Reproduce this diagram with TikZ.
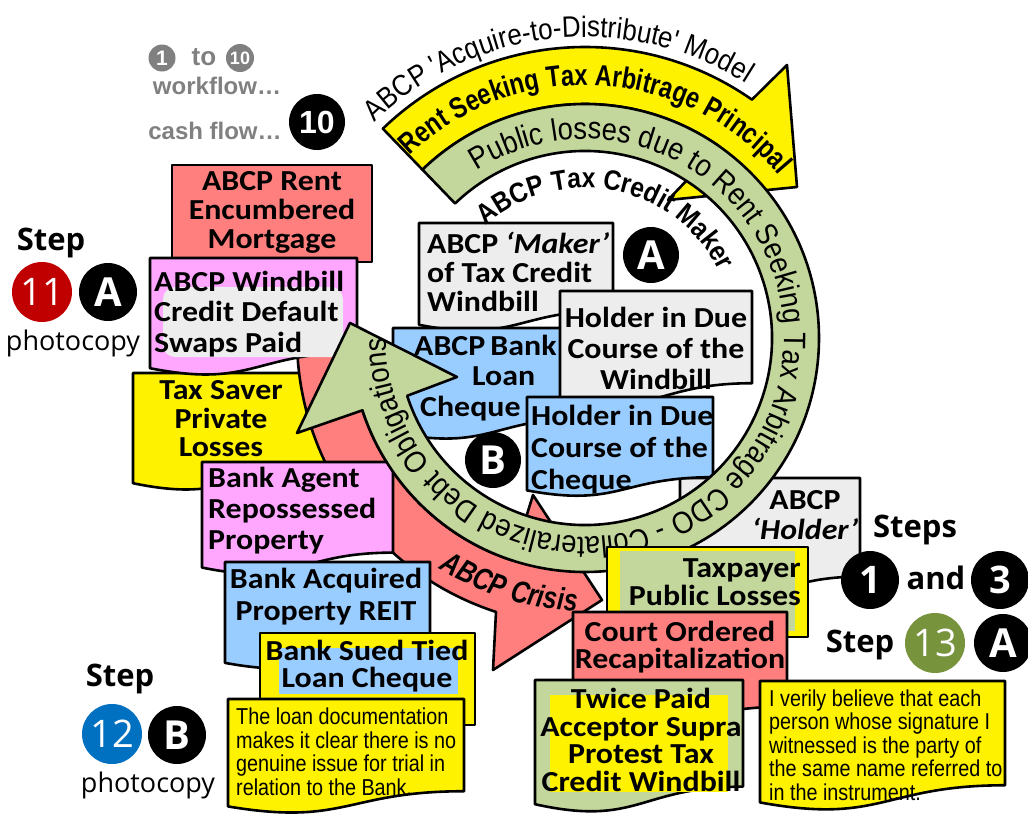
\documentclass[tikz,border=0pt]{standalone}
\usepackage{fontspec}
\setmainfont{Carlito}
\newfontfamily\boxfont[FakeStretch=1.1]{Carlito}
\newfontfamily\arialf{Liberation Sans}
\newfontfamily\arcA[FakeStretch=0.8]{Liberation Sans}
\newfontfamily\arcB[FakeStretch=0.88]{Liberation Sans}
\newfontfamily\openf{Open Sans}
\newfontfamily\notef[FakeStretch=0.86]{Liberation Sans}
\usetikzlibrary{calc,decorations.text}
\definecolor{salmon}{HTML}{FF7F7F}
\definecolor{pinkb}{HTML}{FFA6FF}
\definecolor{lblue}{HTML}{99CCFF}
\definecolor{lgreen}{HTML}{C3D69B}
\definecolor{grayb}{HTML}{EDEDED}
\definecolor{red11}{HTML}{C00000}
\definecolor{blue12}{HTML}{0070C0}
\definecolor{olive13}{HTML}{77933C}
\definecolor{txtgray}{HTML}{808080}
\newcommand\bx[1]{\boxfont\bfseries\fontsize{29}{#1}\selectfont}
\newcommand\docshape[5]{\path[#1] (#2,#3) -- (#4,#3) -- (#4,{#3+0.802*(#5)}) .. controls ({(#2+#4)/2},{#3+0.802*(#5)}) and ({(#2+#4)/2},{#3+1.107*(#5)}) .. (#2,{#3+0.934*(#5)}) -- cycle;}
\tikzset{
  shp/.style={draw=black, line width=2.6pt, line join=round},
  bt/.style={inner sep=0pt, align=center},
  nt/.style={font=\notef\fontsize{23}{23.5}\selectfont, inner sep=0pt, align=left, anchor=west},
  circ/.style={circle, fill=black, minimum size=58pt, inner sep=0pt, text=white},
  lbl/.style={font=\openf\bfseries\fontsize{31}{31}\selectfont, inner sep=0pt},
  photo/.style={font=\openf\fontsize{27}{27}\selectfont, inner sep=0pt},
  gtxt/.style={font=\arialf\bfseries\fontsize{24}{24}\selectfont, text=txtgray, inner sep=0pt},
}
\begin{document}
\begin{tikzpicture}[x=1pt,y=-1pt]
\useasboundingbox (0,0) rectangle (1028,814);
\coordinate (C) at (585,338);

% yellow arrow
\draw[shp, fill=yellow] ($(C)+(-134:291)$) arc[start angle=-134, end angle=-55, radius=291] -- (787,65) -- (797,187) -- (668,200) -- ($(C)+(-55:234)$) arc[start angle=-55, end angle=-134, radius=234] -- cycle;
\path[decorate, decoration={text along path, text align=center, text={|\arcA\bfseries\fontsize{29.5}{29.5}\selectfont|Rent Seeking Tax Arbitrage Principal}}] ($(C)+(-137:253)$) arc[start angle=-137, end angle=-37, radius=253];

% ABCP Holder box
\docshape{shp,fill=grayb}{680}{478}{860}{123}
\node[bt, font=\bx{30}] (holder) at (805,515) {ABCP\\\textit{‘Holder’}};

% Tax Saver
\docshape{shp,fill=yellow}{133}{373}{330}{118}
\node[bt, font=\bx{28.5}] (taxsaver) at (221,419) {Tax Saver\\Private\\Losses};

% red arrow
\draw[shp, fill=salmon] ($(C)+(-175:234)$) arc[start angle=-175, end angle=-252, radius=234] -- (533,495) -- (602,600) -- (493,670) -- ($(C)+(-252:288)$) arc[start angle=-252, end angle=-175, radius=288] -- cycle;
\path[decorate, decoration={text along path, text align=center, text={|\arcA\bfseries\itshape\fontsize{31}{31}\selectfont|ABCP Crisis}}] ($(C)+(-234:273)$) arc[start angle=-234, end angle=-272, radius=273];

% left column boxes
\draw[shp, fill=salmon] (172,165) rectangle (372,262);
\node[bt, font=\bx{29}] (rent) at (272,212) {ABCP Rent\\Encumbered\\Mortgage};
\docshape{shp,fill=pinkb}{150}{258}{357}{118}
\fill[grayb, rounded corners=12pt] (163,287) rectangle (343,357);
\node[bt, align=left, anchor=west, font=\bx{30.5}] (windbill) at (154,314) {ABCP Windbill\\Credit Default\\Swaps Paid};

\docshape{shp,fill=pinkb}{202}{462}{393}{113}
\node[bt, align=left, anchor=west, font=\bx{31}] (agent) at (208,511) {Bank Agent\\Repossessed\\Property};
\docshape{shp,fill=lblue}{225}{562}{430}{108}
\node[bt, font=\bx{32}] (reit) at (326,597) {Bank Acquired\\Property REIT};
\draw[shp, fill=yellow] (260,633) rectangle (475,725);
\fill[lblue] (279,648) rectangle (458,694);
\node[bt, font=\bx{27}] (sued) at (367,666) {Bank Sued Tied\\Loan Cheque};
\docshape{shp,fill=yellow}{228}{699}{464}{115}
\node[nt] (note1) at (236,752) {The loan documentation\\makes it clear there is no\\genuine issue for trial in\\relation to the Bank.};

% inner boxes
\docshape{shp,fill=grayb}{419}{223}{613}{109}
\node[bt, align=left, anchor=west, font=\bx{29}] (maker) at (427,272) {ABCP \textit{‘Maker’}\\of Tax Credit\\Windbill};
\docshape{shp,fill=lblue}{393}{328}{590}{112}
\node[bt, align=left, anchor=west, font=\bx{30.5}] (loan) at (414,378) {ABCP\hspace{-2pt} Bank\\\hspace*{58pt}Loan\\\hspace*{6pt}Cheque};
\docshape{shp,fill=grayb}{560}{291}{752}{115}
\node[bt, font=\bx{31}] (hwind) at (656,348) {Holder in Due\\Course of the\\Windbill};
\docshape{shp,fill=lblue}{527}{397}{713}{100}
\node[bt, align=left, anchor=west, font=\bx{32}] (hcheq) at (531,450) {Holder in Due\\Course of the\\Cheque};

% green arrow
\draw[shp, fill=lgreen] ($(C)+(-134:234)$) arc[start angle=-134, end angle=162, radius=234] -- (297,433) -- (350,323) -- (457,377) -- ($(C)+(162:187)$) arc[start angle=162, end angle=-134, radius=187] -- cycle;
\path[decorate, decoration={text along path, text align=center, text={|\arcB\fontsize{31}{31}\selectfont|Public losses due to Rent Seeking Tax Arbitrage CDO - Collateralized Debt Obligations}}] ($(C)+(-134:199)$) arc[start angle=-134, end angle=191, radius=199];

% right / bottom boxes
\draw[shp, fill=yellow] (607,547) rectangle (808,637);
\fill[lgreen] (620,551) rectangle (795,631);
\node[bt, align=right, anchor=east, font=\bx{28}] (taxpayer) at (801,582) {Taxpayer\\Public Losses};
\docshape{shp,fill=salmon}{573}{612}{787}{118}
\node[bt, font=\bx{27}] (court) at (680,647) {Court Ordered\\Recapitalization};
\docshape{shp,fill=lgreen}{535}{680}{743}{133}
\fill[yellow] (550,695) rectangle (728,792);
\node[bt, font=\bx{27.5}] (twice) at (641,740) {Twice Paid\\Acceptor Supra\\Protest Tax\\Credit Windbill};
\docshape{shp,fill=yellow}{760}{681}{1005}{130}
\node[nt] (note2) at (769,745) {I verily believe that each\\person whose signature I\\witnessed is the party of\\the same name referred to\\in the instrument.};

% arc texts
\path[decorate, decoration={text along path, text align=center, text={|\arcB\fontsize{29.5}{29.5}\selectfont|ABCP 'Acquire-to-Distribute' Model}}] ($(C)+(-139:301)$) arc[start angle=-139, end angle=-53, radius=301];
\path[decorate, decoration={text along path, text align=center, text={|\arcB\bfseries\fontsize{28}{28}\selectfont|ABCP Tax Credit Maker}}] ($(C)+(-135:150)$) arc[start angle=-135, end angle=-23, radius=150];

% circles
\node[circ, minimum size=56pt, font=\openf\bfseries\fontsize{40}{40}\selectfont] (cA) at (651,255) {A};
\node[circ, minimum size=56pt, font=\openf\bfseries\fontsize{40}{40}\selectfont] (cB) at (493,460) {B};

% top-left legend
\node[circ, fill=txtgray, minimum size=27pt, font=\arialf\bfseries\fontsize{21}{21}\selectfont] (g1) at (162,58) {1};
\node[gtxt, font=\arialf\bfseries\fontsize{26}{26}\selectfont] (gto) at (204,57) {to};
\node[circ, fill=txtgray, minimum size=28pt, font=\arialf\bfseries\fontsize{18}{18}\selectfont] (g10) at (240,58) {10};
\node[gtxt] (gwork) at (217,86) {workflow…};
\node[gtxt] (gcash) at (215,131) {cash flow…};
\node[circ, minimum size=56pt, font=\arialf\bfseries\fontsize{32}{32}\selectfont] (c10) at (317,122) {10};

% Step 11 A
\node[lbl] (s11) at (51,243) {Step};
\node[circ, fill=red11, minimum size=60pt, font=\openf\fontsize{38}{38}\selectfont] (c11) at (42,292) {11};
\node[circ, font=\openf\bfseries\fontsize{40}{40}\selectfont] (c11A) at (108,292) {A};
\node[photo] (p11) at (73,343) {photocopy};

% Step 12 B
\node[lbl] (s12) at (120,679) {Step};
\node[circ, fill=blue12, minimum size=60pt, font=\openf\fontsize{38}{38}\selectfont] (c12) at (112,734) {12};
\node[circ, font=\openf\bfseries\fontsize{40}{40}\selectfont] (c12B) at (177,735) {B};
\node[photo] (p12) at (148,785) {photocopy};

% Steps 1 and 3
\node[lbl] (s13a) at (915,530) {Steps};
\node[circ, font=\openf\bfseries\fontsize{38}{38}\selectfont] (c1) at (870,580) {1};
\node[lbl] (sand) at (936,578) {and};
\node[circ, font=\openf\bfseries\fontsize{38}{38}\selectfont] (c3) at (1000,580) {3};

% Step 13 A
\node[lbl] (s13) at (860,645) {Step};
\node[circ, fill=olive13, minimum size=60pt, font=\openf\fontsize{38}{38}\selectfont] (c13) at (935,643) {13};
\node[circ, font=\openf\bfseries\fontsize{40}{40}\selectfont] (c13A) at (1003,643) {A};
\end{tikzpicture}
\end{document}
